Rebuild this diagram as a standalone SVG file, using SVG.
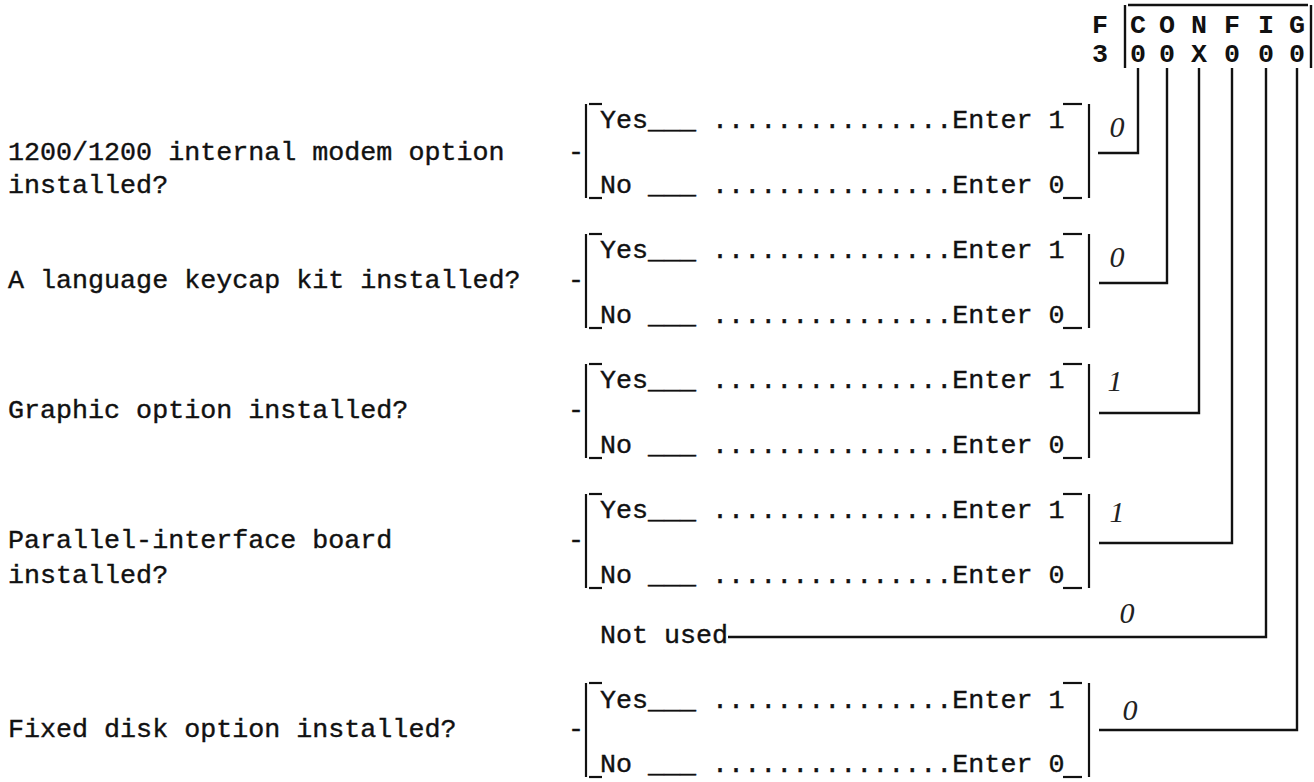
<svg xmlns="http://www.w3.org/2000/svg" width="1314" height="782" viewBox="0 0 1314 782">
<style>
  .t { font-family: "Liberation Mono", "Courier New", monospace; font-size: 26.7px; fill: #111; stroke: #111; stroke-width: 0.4; }
  .h { font-family: "Liberation Mono", "Courier New", monospace; font-size: 26.7px; font-weight: bold; fill: #111; text-anchor: middle; }
  .hw { font-family: "Liberation Serif", serif; font-style: italic; font-size: 30px; fill: #222; text-anchor: middle; }
  .ln { stroke: #111; stroke-width: 2.4; fill: none; }
  .tk { stroke: #111; stroke-width: 2.2; fill: none; }
</style>
<rect width="1314" height="782" fill="#fff"/>

<g id="header">
  <text class="h" x="1100" y="33">F</text>
  <text class="h" x="1100" y="62">3</text>
  <line class="ln" x1="1125" y1="5" x2="1125" y2="68"/>
  <line class="ln" x1="1128" y1="5" x2="1308" y2="5"/>
  <line class="ln" x1="1311" y1="5" x2="1311" y2="68"/>
  <text class="h" x="1138" y="33">C</text>
  <text class="h" x="1167" y="33">O</text>
  <text class="h" x="1199" y="33">N</text>
  <text class="h" x="1232" y="33">F</text>
  <text class="h" x="1266" y="33">I</text>
  <text class="h" x="1297" y="33">G</text>
  <text class="h" x="1138" y="62">0</text>
  <text class="h" x="1167" y="62">0</text>
  <text class="h" x="1199" y="62">X</text>
  <text class="h" x="1232" y="62">0</text>
  <text class="h" x="1266" y="62">0</text>
  <text class="h" x="1297" y="62">0</text>
</g>

<g id="connectors">
  <polyline class="ln" points="1138,68 1138,153 1098,153"/>
  <polyline class="ln" points="1167,68 1167,283 1099,283"/>
  <polyline class="ln" points="1199,68 1199,413 1099,413"/>
  <polyline class="ln" points="1232,68 1232,543 1099,543"/>
  <polyline class="ln" points="1266,68 1266,637 728,637"/>
  <polyline class="ln" points="1297,68 1297,730 1099,730"/>
</g>

<g id="q1">
  <text class="t" x="8" y="160">1200/1200 internal modem option</text>
  <text class="t" x="8" y="193">installed?</text>
  <text class="t" x="568" y="160">-</text>
  <line class="tk" x1="586" y1="104" x2="586" y2="198"/>
  <line class="tk" x1="589" y1="104" x2="602" y2="104"/>
  <line class="tk" x1="589" y1="198" x2="602" y2="198"/>
  <text class="t" x="600" y="128">Yes___ ...............Enter 1</text>
  <text class="t" x="600" y="193">No ___ ...............Enter 0</text>
  <line class="tk" x1="1063" y1="104" x2="1082" y2="104"/>
  <line class="tk" x1="1063" y1="198" x2="1082" y2="198"/>
  <line class="tk" x1="1089" y1="104" x2="1089" y2="198"/>
  <text class="hw" x="1117" y="137">0</text>
</g>

<g id="q2">
  <text class="t" x="8" y="288">A language keycap kit installed?</text>
  <text class="t" x="568" y="288">-</text>
  <line class="tk" x1="586" y1="234" x2="586" y2="328"/>
  <line class="tk" x1="589" y1="234" x2="602" y2="234"/>
  <line class="tk" x1="589" y1="328" x2="602" y2="328"/>
  <text class="t" x="600" y="258">Yes___ ...............Enter 1</text>
  <text class="t" x="600" y="323">No ___ ...............Enter 0</text>
  <line class="tk" x1="1063" y1="234" x2="1082" y2="234"/>
  <line class="tk" x1="1063" y1="328" x2="1082" y2="328"/>
  <line class="tk" x1="1089" y1="234" x2="1089" y2="328"/>
  <text class="hw" x="1117" y="267">0</text>
</g>

<g id="q3">
  <text class="t" x="8" y="418">Graphic option installed?</text>
  <text class="t" x="568" y="418">-</text>
  <line class="tk" x1="586" y1="364" x2="586" y2="458"/>
  <line class="tk" x1="589" y1="364" x2="602" y2="364"/>
  <line class="tk" x1="589" y1="458" x2="602" y2="458"/>
  <text class="t" x="600" y="388">Yes___ ...............Enter 1</text>
  <text class="t" x="600" y="453">No ___ ...............Enter 0</text>
  <line class="tk" x1="1063" y1="364" x2="1082" y2="364"/>
  <line class="tk" x1="1063" y1="458" x2="1082" y2="458"/>
  <line class="tk" x1="1089" y1="364" x2="1089" y2="458"/>
  <text class="hw" x="1115" y="391">1</text>
</g>

<g id="q4">
  <text class="t" x="8" y="548">Parallel-interface board</text>
  <text class="t" x="8" y="583">installed?</text>
  <text class="t" x="568" y="548">-</text>
  <line class="tk" x1="586" y1="494" x2="586" y2="588"/>
  <line class="tk" x1="589" y1="494" x2="602" y2="494"/>
  <line class="tk" x1="589" y1="588" x2="602" y2="588"/>
  <text class="t" x="600" y="518">Yes___ ...............Enter 1</text>
  <text class="t" x="600" y="583">No ___ ...............Enter 0</text>
  <line class="tk" x1="1063" y1="494" x2="1082" y2="494"/>
  <line class="tk" x1="1063" y1="588" x2="1082" y2="588"/>
  <line class="tk" x1="1089" y1="494" x2="1089" y2="588"/>
  <text class="hw" x="1117" y="522">1</text>
</g>

<g id="notused">
  <text class="t" x="600" y="643">Not used</text>
  <text class="hw" x="1127" y="623">0</text>
</g>

<g id="q5">
  <text class="t" x="8" y="737">Fixed disk option installed?</text>
  <text class="t" x="568" y="737">-</text>
  <line class="tk" x1="586" y1="683" x2="586" y2="777"/>
  <line class="tk" x1="589" y1="683" x2="602" y2="683"/>
  <line class="tk" x1="589" y1="777" x2="602" y2="777"/>
  <text class="t" x="600" y="708">Yes___ ...............Enter 1</text>
  <text class="t" x="600" y="772">No ___ ...............Enter 0</text>
  <line class="tk" x1="1063" y1="683" x2="1082" y2="683"/>
  <line class="tk" x1="1063" y1="777" x2="1082" y2="777"/>
  <line class="tk" x1="1089" y1="683" x2="1089" y2="777"/>
  <text class="hw" x="1130" y="720">0</text>
</g>
</svg>
